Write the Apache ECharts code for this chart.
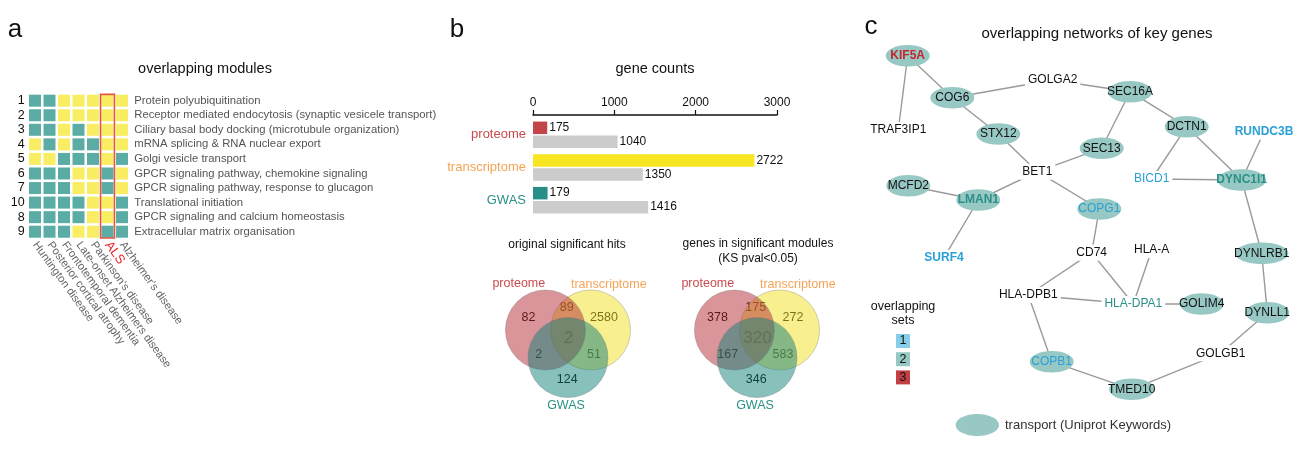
<!DOCTYPE html>
<html><head><meta charset="utf-8">
<script src="https://cdn.jsdelivr.net/npm/echarts@6/dist/echarts.min.js"></script>
<style>html,body{margin:0;padding:0;background:#fff}#c{width:1305px;height:459px}</style>
</head><body><div id="c"></div>
<script>
const FONT = '"Liberation Sans", Arial, Helvetica, sans-serif';

// ---------- panel a data ----------
const diseases = ['Huntington disease','Posterior cortical atrophy','Frontotemporal dementia','Late-onset Alzheimers disease',"Parkinson's disease",'ALS',"Alzheimer's disease"];
const highlightDisease = 'ALS';
const moduleIds = ['1','2','3','4','5','6','7','10','8','9'];
const moduleNames = ['Protein polyubiquitination','Receptor mediated endocytosis (synaptic vesicele transport)','Ciliary basal body docking (microtubule organization)','mRNA splicing & RNA nuclear export','Golgi vesicle transport','GPCR signaling pathway, chemokine signaling','GPCR signaling pathway, response to glucagon','Translational initiation','GPCR signaling and calcium homeostasis','Extracellular matrix organisation'];
// 1 = teal, 0 = yellow ; rows follow moduleIds, columns follow diseases
const overlapMatrix = [
  [1,1,0,0,0,0,0],
  [1,1,0,0,0,0,0],
  [1,1,0,1,0,0,0],
  [0,1,0,1,1,0,0],
  [0,0,1,1,1,0,1],
  [1,1,1,0,0,1,0],
  [1,1,1,0,0,1,0],
  [1,1,1,1,0,0,1],
  [1,1,1,1,0,0,1],
  [1,1,1,0,0,1,1]
];

// ---------- panel b data ----------
const omics = ['proteome','transcriptome','GWAS'];
const sigHits = [175, 2722, 179];
const moduleGenes = [1040, 1350, 1416];
const countTicks = [0, 1000, 2000, 3000];
const vennRegions = ['P','PT','T','PTG','PG','TG','G'];
const vennHits = [82, 89, 2580, 2, 2, 51, 124];
const vennModules = [378, 175, 272, 320, 167, 583, 346];

// ---------- panel c data ----------
const geneNames = ['KIF5A','COG6','GOLGA2','SEC16A','TRAF3IP1','STX12','SEC13','DCTN1','RUNDC3B','BET1','BICD1','DYNC1I1','MCFD2','LMAN1','COPG1','SURF4','CD74','HLA-A','DYNLRB1','HLA-DPB1','HLA-DPA1','GOLIM4','DYNLL1','GOLGB1','COPB1','TMED10'];
const geneSets = [3,0,0,0,0,0,0,0,1,0,1,2,0,2,1,1,0,0,0,0,2,0,0,0,1,0];
const geneTransport = [1,1,0,1,0,1,1,1,0,0,0,1,1,1,1,0,0,0,1,0,0,1,1,0,1,1];
const geneLinks = [
  ['KIF5A','TRAF3IP1'],['KIF5A','COG6'],['COG6','GOLGA2'],['GOLGA2','SEC16A'],['COG6','STX12'],
  ['STX12','BET1'],['SEC16A','SEC13'],['SEC16A','DCTN1'],['SEC13','BET1'],['DCTN1','BICD1'],
  ['DCTN1','DYNC1I1'],['RUNDC3B','DYNC1I1'],['BICD1','DYNC1I1'],['BET1','LMAN1'],['BET1','COPG1'],
  ['MCFD2','LMAN1'],['LMAN1','SURF4'],['COPG1','CD74'],['DYNC1I1','DYNLRB1'],['CD74','HLA-DPB1'],
  ['CD74','HLA-DPA1'],['HLA-A','HLA-DPA1'],['HLA-DPB1','HLA-DPA1'],['HLA-DPA1','GOLIM4'],
  ['DYNLRB1','DYNLL1'],['HLA-DPB1','COPB1'],['DYNLL1','GOLGB1'],['GOLGB1','TMED10'],['COPB1','TMED10']
];
const setLevels = [1, 2, 3];

// ---------- layout / style (not data) ----------
const netLayout = {
  'KIF5A':[47.7,35.7],'COG6':[92.3,77.7],'GOLGA2':[192.7,60],'SEC16A':[270,71.7],'TRAF3IP1':[38.3,110],
  'STX12':[138.3,114],'SEC13':[241.7,128.3],'DCTN1':[326.7,106.7],'RUNDC3B':[404,111.7],'BET1':[177.3,151.7],
  'BICD1':[291.7,159],'DYNC1I1':[381.7,160],'MCFD2':[48.3,165.7],'LMAN1':[118.3,180],'COPG1':[239.3,189],
  'SURF4':[84,237.7],'CD74':[231.7,232.7],'HLA-A':[291.7,230],'DYNLRB1':[401.7,233.3],'HLA-DPB1':[168.3,275],
  'HLA-DPA1':[273.3,284],'GOLIM4':[341.7,284],'DYNLL1':[407.3,292.7],'GOLGB1':[360.7,333.3],'COPB1':[191.7,341.7],
  'TMED10':[271.7,369.3]
};
const boldGenes = ['KIF5A','RUNDC3B','SURF4','LMAN1','DYNC1I1'];
const SET_TEXT = {0:'#111', 1:'#2aa0d6', 2:'#2a9088', 3:'#c0282d'};
const SET_BOX = {1:'#87ceea', 2:'#96c8c4', 3:'#c24043'};
const NODE_FILL = '#97c8c4';
const TEAL_CELL = '#5aaca5', YELLOW_CELL = '#f9ed63';
const OMIC_TEXT = ['#c94a4d','#f5a456','#2a9088'];
const OMIC_BAR = ['#c2454a','#f9e622','#278f87'];
const VENN_FILL = ['rgba(179,43,53,0.5)','rgba(241,223,31,0.5)','rgba(17,129,121,0.5)']; // P, T, G
const vennCirclePos = [[-0.565,0],[0.565,0],[0,-0.69]];
const vennDrawOrder = [1, 0, 2];
const vennRegionPos = {P:[-0.99,0.3],PT:[-0.03,0.55],T:[0.9,0.3],PTG:[0.01,-0.2],PG:[-0.73,-0.61],TG:[0.65,-0.61],G:[-0.02,-1.25]};
const vennSetLabelPos = [[-1.23,1.15],[1.02,1.14],[-0.05,-1.9]];

const measureCtx = document.createElement('canvas').getContext('2d');
function textW(t, size, weight){ measureCtx.font = (weight||'normal') + ' ' + size + 'px ' + FONT; return measureCtx.measureText(t).width; }

const chart = echarts.init(document.getElementById('c'), null, {renderer:'canvas', width:1305, height:459});

const cellData = [];
overlapMatrix.forEach((row, ri) => row.forEach((v, ci) => cellData.push([ci, ri, v])));

function vennSeries(xIdx, yIdx, values) {
  const base = {type:'custom', coordinateSystem:'cartesian2d', xAxisIndex:xIdx, yAxisIndex:yIdx, silent:true};
  return [
    Object.assign({}, base, { z:1,
      data: vennRegions.map((r,i)=>[vennRegionPos[r][0], vennRegionPos[r][1], values[i], i]),
      renderItem(params, api){
        const c = api.coord([api.value(0), api.value(1)]);
        const center = vennRegions[api.value(3)] === 'PTG';
        return {type:'text', x:c[0], y:c[1], style:{text:String(api.value(2)), align:'center', verticalAlign:'middle',
          fontSize: center ? 17 : 12.5, fontFamily: FONT, fill: center ? '#555' : '#000'}};
      }}),
    Object.assign({}, base, { z:2,
      data: vennDrawOrder.map(k=>[vennCirclePos[k][0], vennCirclePos[k][1], k]),
      renderItem(params, api){
        const c = api.coord([api.value(0), api.value(1)]);
        const r = api.size([1,0])[0];
        return {type:'circle', shape:{cx:c[0], cy:c[1], r:r}, style:{fill:VENN_FILL[api.value(2)], stroke:'rgba(110,110,110,0.4)', lineWidth:0.8}};
      }}),
    Object.assign({}, base, { z:3,
      data: omics.map((o,i)=>[vennSetLabelPos[i][0], vennSetLabelPos[i][1], i]),
      renderItem(params, api){
        const c = api.coord([api.value(0), api.value(1)]);
        const k = api.value(2);
        return {type:'text', x:c[0], y:c[1], style:{text:omics[k], align:'center', verticalAlign:'middle', fontSize:12.5, fontFamily:FONT, fill:OMIC_TEXT[k]}};
      }})
  ];
}

const hiddenAxis = {show:false, type:'value', min:-2, max:2};

const graphicText = (x, y, text, size, extra) => Object.assign({type:'text', x, y, silent:true,
  style:Object.assign({text, fontSize:size, fontFamily:FONT, fill:'#111', align:'center', verticalAlign:'middle'}, extra||{})});

const option = {
  backgroundColor:'#fff',
  animation:false,
  textStyle:{fontFamily:FONT},
  grid:[
    {left:27.75, top:93.4, width:101.5, height:145.6},
    {left:533, top:118.5, width:244, height:98},
    {left:488, top:250, width:160, height:160},
    {left:677, top:250, width:160, height:160},
    {left:860, top:20, width:440, height:420}
  ],
  xAxis:[
    {gridIndex:0, type:'category', position:'bottom',
      data: diseases.map(d => d === highlightDisease ? {value:d, textStyle:{color:'#e8262a', fontSize:13}} : d),
      axisLine:{show:false}, axisTick:{show:false}, splitLine:{show:false},
      axisLabel:{interval:0, rotate:-54, color:'#666', fontSize:11.2, margin:4, fontFamily:FONT}},
    {gridIndex:1, type:'value', position:'top', min:countTicks[0], max:countTicks[countTicks.length-1], interval:countTicks[1]-countTicks[0], offset:3.5,
      axisLine:{show:true, lineStyle:{color:'#111', width:1.5}}, axisTick:{show:true, length:5, lineStyle:{color:'#111', width:1.2}},
      splitLine:{show:false}, axisLabel:{color:'#111', fontSize:12, margin:6, fontFamily:FONT, formatter: v => String(v)}},
    Object.assign({gridIndex:2}, hiddenAxis),
    Object.assign({gridIndex:3}, hiddenAxis),
    {gridIndex:4, show:false, type:'value', min:0, max:440}
  ],
  yAxis:[
    {gridIndex:0, type:'category', data:moduleIds, inverse:true, axisLine:{show:false}, axisTick:{show:false},
      axisLabel:{interval:0, color:'#111', fontSize:12.5, margin:3, fontFamily:FONT}},
    {gridIndex:0, type:'category', data:moduleNames, inverse:true, position:'right', axisLine:{show:false}, axisTick:{show:false},
      axisLabel:{interval:0, color:'#555', fontSize:11.3, margin:5, fontFamily:FONT}},
    {gridIndex:1, type:'category', data: omics.map((o,i)=>({value:o, textStyle:{color:OMIC_TEXT[i]}})), inverse:true,
      axisLine:{show:false}, axisTick:{show:false}, axisLabel:{interval:0, fontSize:13, margin:7, fontFamily:FONT}},
    Object.assign({gridIndex:2}, hiddenAxis),
    Object.assign({gridIndex:3}, hiddenAxis),
    {gridIndex:4, show:false, type:'value', min:0, max:420, inverse:true}
  ],
  series:[
    {type:'scatter', xAxisIndex:0, yAxisIndex:0, symbol:'rect', symbolSize:12, silent:true,
      data:cellData, itemStyle:{opacity:1, color: p => p.value[2] ? TEAL_CELL : YELLOW_CELL}},
    {type:'custom', coordinateSystem:'cartesian2d', xAxisIndex:0, yAxisIndex:1, z:5, silent:true,
      data:[[diseases.indexOf(highlightDisease), 0]],
      renderItem(params, api){
        const xi = api.value(0);
        const top = api.coord([xi, 0]);
        const bot = api.coord([xi, moduleIds.length-1]);
        const band = api.size([1,1]);
        return {type:'rect', shape:{x:top[0]-band[0]/2+0.3, y:top[1]-band[1]/2+1, width:band[0]-0.6, height:bot[1]-top[1]+band[1]-2},
          style:{fill:'none', stroke:'#e2573f', lineWidth:1.6}};
      }},
    {type:'bar', xAxisIndex:1, yAxisIndex:2, barWidth:12.5, barGap:'12%', silent:true,
      data: sigHits.map((v,i)=>({value:v, itemStyle:{color:OMIC_BAR[i]}})),
      label:{show:true, position:'right', distance:2, color:'#111', fontSize:12, fontFamily:FONT}},
    {type:'bar', xAxisIndex:1, yAxisIndex:2, barWidth:12.5, silent:true,
      data: moduleGenes, itemStyle:{color:'#cccccc'},
      label:{show:true, position:'right', distance:2, color:'#111', fontSize:12, fontFamily:FONT}},
    ...vennSeries(2, 3, vennHits),
    ...vennSeries(3, 4, vennModules),
    {type:'custom', coordinateSystem:'cartesian2d', xAxisIndex:4, yAxisIndex:5, z:2, silent:true,
      data: geneLinks.map(([a,b]) => [geneNames.indexOf(a), geneNames.indexOf(b)]),
      renderItem(params, api){
        const a = netLayout[geneNames[api.value(0)]], b = netLayout[geneNames[api.value(1)]];
        const p1 = api.coord(a), p2 = api.coord(b);
        return {type:'line', shape:{x1:p1[0], y1:p1[1], x2:p2[0], y2:p2[1]}, style:{stroke:'#9a9a9a', lineWidth:1.4}};
      }},
    {type:'custom', coordinateSystem:'cartesian2d', xAxisIndex:4, yAxisIndex:5, z:3, silent:true,
      data: geneNames.map((g,i) => [netLayout[g][0], netLayout[g][1], i]),
      renderItem(params, api){
        const i = api.value(2);
        const name = geneNames[i];
        const c = api.coord([api.value(0), api.value(1)]);
        const weight = boldGenes.indexOf(name) >= 0 ? 'bold' : 'normal';
        const children = [];
        if (geneTransport[i]) {
          const w = Math.max(44, textW(name, 12, 'normal') - 2);
          children.push({type:'ellipse', shape:{cx:c[0], cy:c[1], rx:w/2, ry:10.8}, style:{fill:NODE_FILL}});
        }
        children.push({type:'text', x:c[0], y:c[1], style:{text:name, align:'center', verticalAlign:'middle', fontSize:12, fontWeight:weight,
          fontFamily:FONT, fill:SET_TEXT[geneSets[i]], backgroundColor: geneTransport[i] ? null : '#fff', padding: geneTransport[i] ? 0 : [2,3]}});
        return {type:'group', children};
      }}
  ],
  graphic:[
    graphicText(15, 30, 'a', 26),
    graphicText(457, 30, 'b', 26),
    graphicText(871, 27, 'c', 26),
    graphicText(205, 69, 'overlapping modules', 14.5),
    graphicText(655, 69, 'gene counts', 14.5),
    graphicText(567, 245, 'original significant hits', 12),
    graphicText(758, 244, 'genes in significant modules', 12),
    graphicText(758, 259, '(KS pval<0.05)', 12),
    graphicText(1097, 34, 'overlapping networks of key genes', 15),
    graphicText(903, 307, 'overlapping', 12.5),
    graphicText(903, 321, 'sets', 12.5),
    ...setLevels.map((s, k) => ({type:'rect', silent:true, shape:{x:896, y:334 + k*18.2, width:14, height:14}, style:{fill:SET_BOX[s]}})),
    ...setLevels.map((s, k) => graphicText(903, 341 + k*18.2, String(s), 12.5)),
    {type:'ellipse', silent:true, shape:{cx:977.3, cy:425, rx:21.7, ry:11}, style:{fill:NODE_FILL}},
    graphicText(1005, 425, 'transport (Uniprot Keywords)', 13, {align:'left', fill:'#333'})
  ]
};
chart.setOption(option);
</script>
</body></html>
